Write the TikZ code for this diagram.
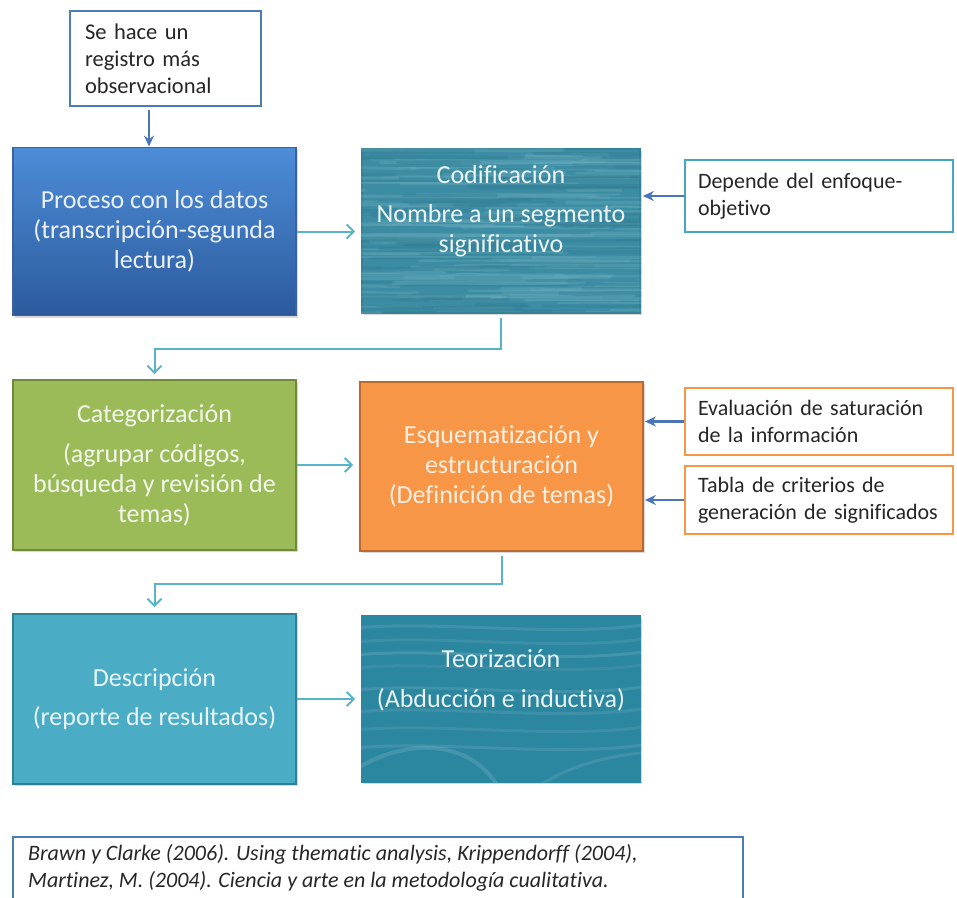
\documentclass[tikz,border=0pt]{standalone}
\usepackage{fontspec}
\setmainfont{Carlito}[Ligatures=NoCommon]
\usetikzlibrary{arrows.meta,shadows,calc}

\newcommand\nobreakhyph{\hyphenpenalty=10000 \exhyphenpenalty=10000 \relax}

\definecolor{procTop}{HTML}{4D8DD8}
\definecolor{procBot}{HTML}{2C5A9C}
\definecolor{procLine}{HTML}{3A62A0}
\definecolor{codifBase}{HTML}{3C8DA4}
\definecolor{codifLight}{HTML}{72B3C4}
\definecolor{codifDark}{HTML}{2F7A90}
\definecolor{catGreen}{HTML}{9BBB59}
\definecolor{catLine}{HTML}{6F8A3A}
\definecolor{esqOrange}{HTML}{F79646}
\definecolor{esqLine}{HTML}{BA6A2E}
\definecolor{descTeal}{HTML}{4BACC6}
\definecolor{descLine}{HTML}{2F7F95}
\definecolor{teorBase}{HTML}{2B86A0}
\definecolor{flowTeal}{HTML}{58B4C9}
\definecolor{sideBlue}{HTML}{4A76B8}
\definecolor{noteBlue}{HTML}{4A7CB8}
\definecolor{depTeal}{HTML}{45A7C0}

\begin{document}
\begin{tikzpicture}[x={(1pt,0)}, y={(0,-1pt)},
  mainbox/.style={draw, line width=1.8pt, inner sep=0pt, align=center,
    font=\fontsize{26}{30}\selectfont,
    drop shadow={opacity=0.3, shadow xshift=1.5pt, shadow yshift=-2pt}},
  boxtext/.style={align=center, inner sep=0pt, font=\fontsize{26}{30}\selectfont},
  sidebox/.style={draw, fill=white, line width=2.4pt, align=left,
    inner xsep=13pt, inner ysep=0pt, text=black!85,
    font={\fontsize{22}{26.5}\selectfont\nobreakhyph}},
  flow/.style={draw=flowTeal, line width=2pt,
    -{Straight Barb[length=7pt, width=14pt, line width=2pt]}},
  side/.style={draw=sideBlue, line width=2.4pt,
    -{Stealth[length=11pt, width=10pt]}}
]
\useasboundingbox (0,0) rectangle (957,897);
\clip (0,0) rectangle (957,897);

% ---- note on top
\node[sidebox, draw=noteBlue, line width=2.8pt, inner xsep=15pt,
  text width=161pt, minimum height=95pt, font={\fontsize{22.5}{27}\selectfont}]
  (note) at (165.5,58.5) {Se hace un\\registro más\\observacional};

% ---- first row
\node[mainbox, top color=procTop, bottom color=procBot, draw=procLine,
  minimum width=283pt, minimum height=168pt, text=white!88!procTop] (proc)
  at (154.5,231.5) {Proceso con los datos\\(transcripción-segunda\\lectura)};

\node[mainbox, fill=codifBase, draw=codifBase!92!black,
  minimum width=278pt, minimum height=164pt] (codif) at (501,231) {};
\begin{scope}
  \clip (codif.north west) rectangle (codif.south east);
  \pgfmathsetseed{7}
  \foreach \k in {1,...,110}{
    \pgfmathsetmacro\ya{150+163*rnd}
    \pgfmathsetmacro\xa{300+320*rnd}
    \pgfmathsetmacro\la{40+220*rnd}
    \pgfmathsetmacro\wa{1+3*rnd}
    \pgfmathsetmacro\dy{4*rnd-2}
    \draw[codifLight, opacity=0.28, line width=\wa pt, line cap=round]
      (\xa,\ya) .. controls +(\la/3,\dy) and +(-\la/3,-\dy) .. ++(\la,0);
  }
  \foreach \k in {1,...,70}{
    \pgfmathsetmacro\ya{150+163*rnd}
    \pgfmathsetmacro\xa{300+320*rnd}
    \pgfmathsetmacro\la{40+220*rnd}
    \pgfmathsetmacro\wa{1+3*rnd}
    \pgfmathsetmacro\dy{4*rnd-2}
    \draw[codifDark, opacity=0.35, line width=\wa pt, line cap=round]
      (\xa,\ya) .. controls +(\la/3,\dy) and +(-\la/3,-\dy) .. ++(\la,0);
  }
\end{scope}
\node[boxtext, text=white!90!codifBase] (codifT) at (501,211)
  {Codificación\\[9pt]Nombre a un segmento\\significativo};

\node[sidebox, draw=depTeal, text width=242pt, minimum height=72pt] (dep)
  at (819,196) {Depende del enfoque-\\objetivo};

% ---- second row
\node[mainbox, fill=catGreen, draw=catLine, minimum width=283pt,
  minimum height=170pt, text=white!88!catGreen] (categ) at (154.5,465)
  {Categorización\\[10pt](agrupar códigos,\\búsqueda y revisión de\\temas)};

\node[mainbox, fill=esqOrange, draw=esqLine, minimum width=283pt,
  minimum height=169pt, text=white!85!esqOrange] (esq) at (501.5,466.5)
  {Esquematización y\\estructuración\\(Definición de temas)};

\node[sidebox, draw=esqOrange, text width=242pt, minimum height=67pt] (eval)
  at (819,421.5) {Evaluación de saturación\\de la información};
\node[sidebox, draw=esqOrange, text width=242pt, minimum height=68pt] (tabla)
  at (819,500) {Tabla de criterios de\\generación de significados};

% ---- third row
\node[mainbox, fill=descTeal, draw=descLine, minimum width=283pt,
  minimum height=170pt, text=white!88!descTeal] (desc) at (154.5,699)
  {Descripción\\[9pt](reporte de resultados)};

\node[mainbox, fill=teorBase, draw=teorBase, minimum width=278pt,
  minimum height=166pt] (teor) at (501,699) {};
\begin{scope}
  \clip (teor.north west) rectangle (teor.south east);
  \foreach \yy/\op in {628/0.10, 642/0.08, 655/0.12, 668/0.07, 690/0.10,
                       712/0.09, 730/0.08, 748/0.10}{
    \draw[white, opacity=\op, line width=3pt]
      (355,\yy) .. controls (440,\yy-8) and (560,\yy+10) .. (650,\yy-4);
  }
  \draw[white, opacity=0.12, line width=4pt]
    (355,770) .. controls (400,740) and (470,735) .. (500,790);
  \draw[white, opacity=0.10, line width=3pt]
    (540,785) .. controls (580,760) and (620,755) .. (650,752);
\end{scope}
\node[boxtext, text=white!90!teorBase] (teorT) at (501,680)
  {Teorización\\[10pt](Abducción e inductiva)};

% ---- references
\node[draw=noteBlue, line width=2.4pt, minimum width=730pt, minimum height=90pt,
  anchor=north west, inner sep=0pt] (ref) at (12,836) {};
\node[anchor=north west, inner sep=0pt, align=left, text=black!85,
  font=\itshape\fontsize{22}{27}\selectfont] (refT)
  at ([xshift=16pt, yshift=-8pt]ref.north west)
  {Brawn y Clarke (2006). Using thematic analysis, Krippendorff (2004),\\
   Martinez, M. (2004). Ciencia y arte en la metodología cualitativa.};

% ---- connectors
\coordinate (nq) at (149,0);
\draw[side, shorten <=3pt] (nq |- note.south) -- (nq |- proc.north);
\draw[flow, shorten >=6pt] (proc.east) -- (proc.east -| codif.west);
\draw[flow, shorten <=4pt, shorten >=5pt] (codif.south) -- ++(0,35) -| (categ.north);
\draw[flow, shorten >=6pt] (categ.east) -- (categ.east -| esq.west);
\draw[flow, shorten <=4pt, shorten >=6pt] (esq.south) -- ++(0,32) -| (desc.north);
\draw[flow, shorten >=6pt] (desc.east) -- (desc.east -| teor.west);

\draw[side, shorten >=2pt] (dep.west) -- (dep.west -| codif.east);
\draw[side, shorten >=1pt] (eval.west) -- (eval.west -| esq.east);
\draw[side, shorten >=1pt] (tabla.west) -- (tabla.west -| esq.east);
\end{tikzpicture}
\end{document}
